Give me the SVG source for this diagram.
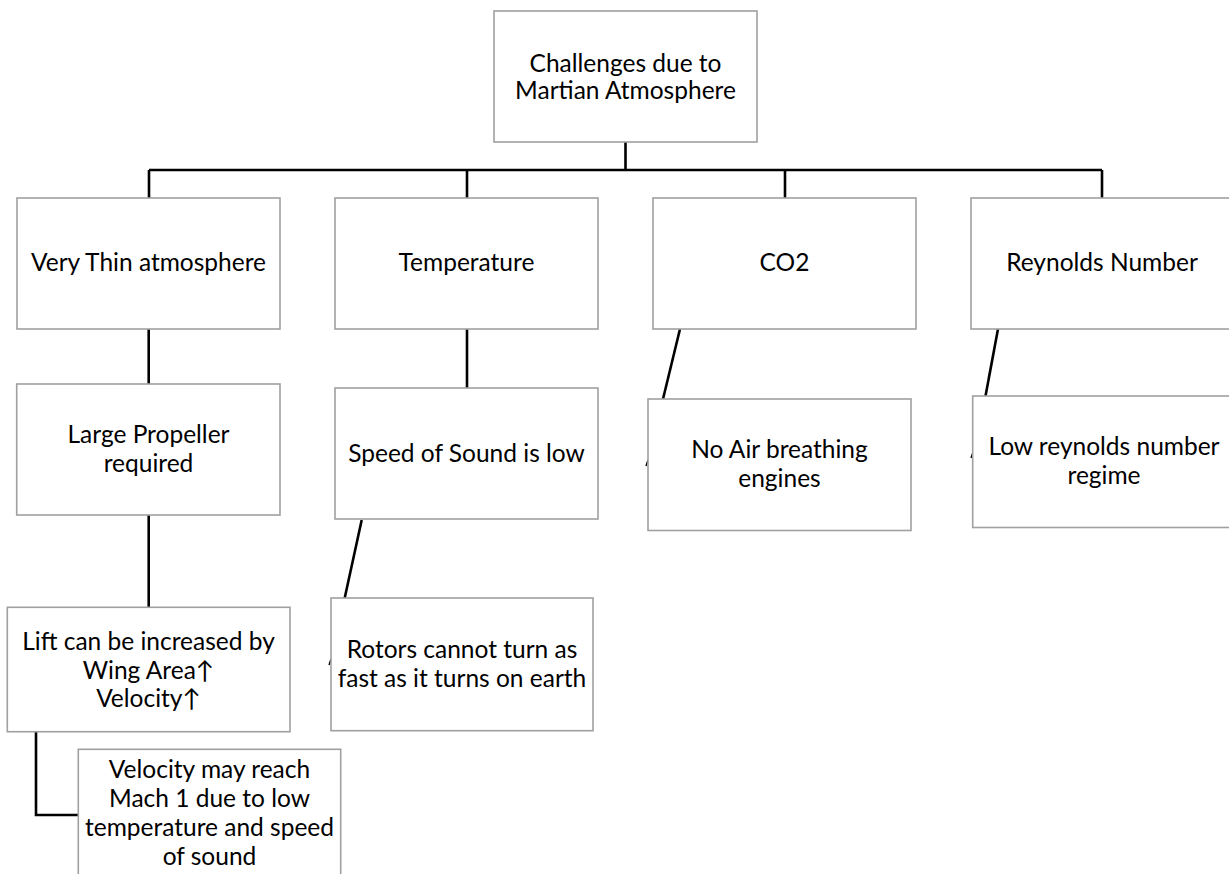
<svg xmlns="http://www.w3.org/2000/svg" width="1229" height="874" viewBox="0 0 1229 874">
<style>
.box{fill:#ffffff;stroke:#a0a0a0;stroke-width:1.6}
.lbl{font-family:Lato,"Noto Sans","DejaVu Sans",sans-serif;font-size:24.5px;fill:#000000;text-anchor:middle}
.con{fill:none;stroke:#000000;stroke-width:2.6}
.tick{fill:none;stroke:#000000;stroke-width:1.4}
</style>
<rect x="0" y="0" width="1229" height="874" fill="#ffffff"/>
<g id="connectors">
<path class="con" d="M625.5 142 V170 M149 170 H1102 M149 170 V198 M467 170 V198 M785 170 V198 M1102 170 V198"/>
<path class="con" d="M148.7 328 V384 M148.7 515 V607 M36 732 V815 H78.3"/>
<path class="con" d="M467 328 V388 M361.7 520 L344.7 598"/>
<path class="con" d="M680 329 L663 399"/>
<path class="con" d="M998 329 L985.5 396"/>
<path class="tick" d="M648 460 L646 466 M331 659 L329 665 M973 452 L971 458"/>
</g>
<g id="root">
<rect class="box" x="494" y="11" width="263" height="131"/>
<text class="lbl" x="625.5" y="72">Challenges due to</text>
<text class="lbl" x="625.5" y="99">Martian Atmosphere</text>
</g>
<g id="thin">
<rect class="box" x="17" y="198" width="263" height="131"/>
<text class="lbl" x="148.5" y="271">Very Thin atmosphere</text>
</g>
<g id="temperature">
<rect class="box" x="335" y="198" width="263" height="131"/>
<text class="lbl" x="466.5" y="271">Temperature</text>
</g>
<g id="co2">
<rect class="box" x="653" y="198" width="263" height="131"/>
<text class="lbl" x="784.5" y="271">CO2</text>
</g>
<g id="reynolds">
<rect class="box" x="971" y="198" width="270" height="131"/>
<text class="lbl" x="1102" y="271">Reynolds Number</text>
</g>
<g id="propeller">
<rect class="box" x="16.7" y="384" width="263.3" height="131"/>
<text class="lbl" x="148.5" y="443">Large Propeller</text>
<text class="lbl" x="148.5" y="471.5">required</text>
</g>
<g id="sound">
<rect class="box" x="335" y="388" width="263" height="131"/>
<text class="lbl" x="466.5" y="462">Speed of Sound is low</text>
</g>
<g id="airbreathing">
<rect class="box" x="648" y="399" width="263" height="131.5"/>
<text class="lbl" x="779.5" y="458">No Air breathing</text>
<text class="lbl" x="779.5" y="486.5">engines</text>
</g>
<g id="lowre">
<rect class="box" x="972.7" y="396" width="270" height="131.5"/>
<text class="lbl" x="1104" y="455">Low reynolds number</text>
<text class="lbl" x="1104" y="483.5">regime</text>
</g>
<g id="lift">
<rect class="box" x="7.3" y="607.3" width="282.7" height="124.4"/>
<text class="lbl" x="148.5" y="650">Lift can be increased by</text>
<text class="lbl" x="148.5" y="678.5">Wing Area↑</text>
<text class="lbl" x="148.5" y="707">Velocity↑</text>
</g>
<g id="rotors">
<rect class="box" x="331" y="598" width="262" height="132.7"/>
<text class="lbl" x="462" y="658">Rotors cannot turn as</text>
<text class="lbl" x="462" y="686.5">fast as it turns on earth</text>
</g>
<g id="mach">
<rect class="box" x="78.3" y="749.3" width="262.4" height="140"/>
<text class="lbl" x="209.5" y="778">Velocity may reach</text>
<text class="lbl" x="209.5" y="807">Mach 1 due to low</text>
<text class="lbl" x="209.5" y="836">temperature and speed</text>
<text class="lbl" x="209.5" y="865">of sound</text>
</g>
</svg>
